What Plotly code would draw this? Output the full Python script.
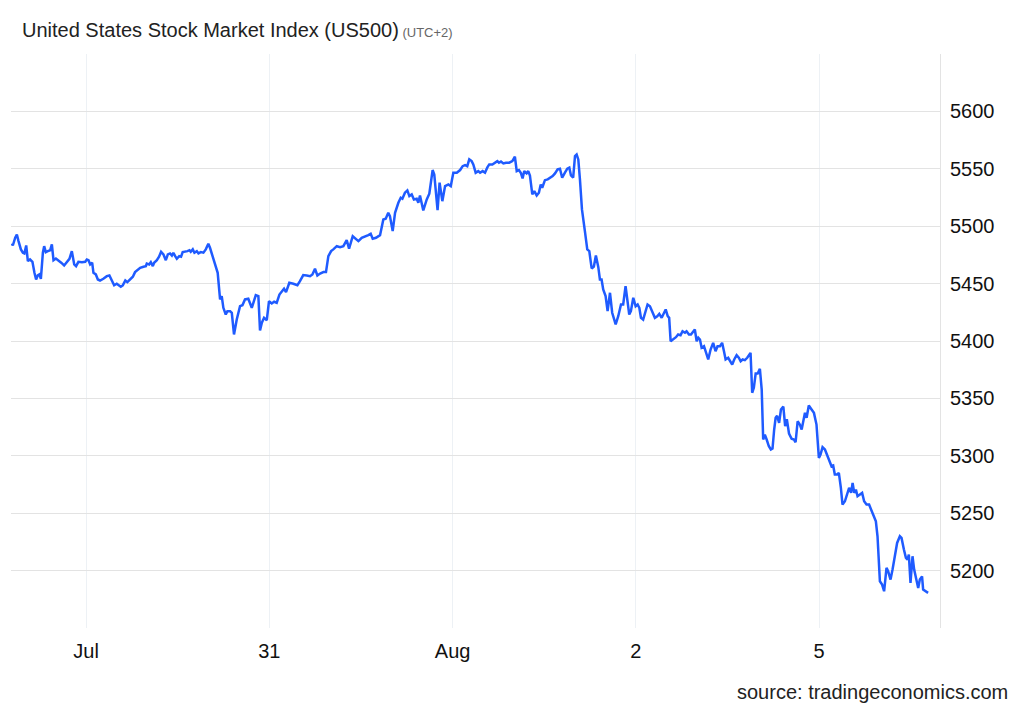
import plotly.graph_objects as go

# session position (0 = Jul 30 tick, 1 = Jul 31, ... 4 = Aug 5) and index level
t_days = [
    -0.405, -0.400, -0.387, -0.378, -0.369, -0.356, -0.345, -0.337, -0.327, -0.318,
    -0.306, -0.293, -0.282, -0.273, -0.264, -0.255, -0.247, -0.236, -0.229, -0.220,
    -0.209, -0.196, -0.187, -0.178, -0.165, -0.151, -0.136, -0.120, -0.105, -0.091,
    -0.078, -0.065, -0.055, -0.042, -0.023, -0.005, 0.004, 0.013, 0.022, 0.033,
    0.040, 0.053, 0.064, 0.076, 0.094, 0.113, 0.127, 0.140, 0.153, 0.167,
    0.176, 0.189, 0.200, 0.214, 0.225, 0.240, 0.255, 0.267, 0.280, 0.295,
    0.313, 0.326, 0.331, 0.344, 0.353, 0.364, 0.371, 0.386, 0.398, 0.409,
    0.422, 0.435, 0.446, 0.458, 0.468, 0.476, 0.486, 0.495, 0.508, 0.518,
    0.527, 0.540, 0.553, 0.564, 0.571, 0.582, 0.591, 0.604, 0.613, 0.626,
    0.640, 0.653, 0.667, 0.676, 0.689, 0.704, 0.718, 0.731, 0.740, 0.749,
    0.762, 0.771, 0.786, 0.795, 0.807, 0.822, 0.840, 0.853, 0.867, 0.885,
    0.904, 0.926, 0.940, 0.949, 0.959, 0.971, 0.986, 0.998, 1.013, 1.026,
    1.040, 1.055, 1.068, 1.080, 1.091, 1.109, 1.131, 1.153, 1.167, 1.185,
    1.204, 1.222, 1.235, 1.249, 1.262, 1.277, 1.295, 1.309, 1.322, 1.337,
    1.349, 1.368, 1.386, 1.404, 1.422, 1.435, 1.455, 1.468, 1.486, 1.504,
    1.522, 1.540, 1.553, 1.564, 1.582, 1.604, 1.622, 1.635, 1.649, 1.658,
    1.673, 1.686, 1.704, 1.717, 1.726, 1.740, 1.753, 1.764, 1.777, 1.789,
    1.804, 1.813, 1.822, 1.840, 1.859, 1.873, 1.891, 1.900, 1.918, 1.929,
    1.944, 1.959, 1.977, 1.990, 2.004, 2.023, 2.041, 2.055, 2.068, 2.080,
    2.091, 2.104, 2.113, 2.126, 2.140, 2.150, 2.164, 2.177, 2.189, 2.200,
    2.217, 2.231, 2.244, 2.253, 2.264, 2.277, 2.291, 2.309, 2.326, 2.340,
    2.350, 2.362, 2.372, 2.382, 2.391, 2.404, 2.413, 2.422, 2.435, 2.446,
    2.459, 2.471, 2.481, 2.489, 2.504, 2.519, 2.531, 2.546, 2.559, 2.573,
    2.586, 2.598, 2.613, 2.626, 2.637, 2.646, 2.658, 2.668, 2.677, 2.686,
    2.695, 2.706, 2.722, 2.735, 2.746, 2.759, 2.771, 2.782, 2.795, 2.804,
    2.813, 2.822, 2.835, 2.846, 2.859, 2.871, 2.890, 2.904, 2.919, 2.931,
    2.944, 2.953, 2.964, 2.973, 2.986, 2.999, 3.010, 3.019, 3.028, 3.040,
    3.054, 3.064, 3.077, 3.092, 3.104, 3.117, 3.128, 3.141, 3.154, 3.163,
    3.174, 3.182, 3.190, 3.204, 3.219, 3.231, 3.244, 3.255, 3.268, 3.277,
    3.290, 3.301, 3.313, 3.322, 3.332, 3.341, 3.350, 3.359, 3.372, 3.383,
    3.395, 3.408, 3.422, 3.435, 3.446, 3.459, 3.471, 3.481, 3.490, 3.504,
    3.513, 3.526, 3.537, 3.550, 3.562, 3.572, 3.583, 3.595, 3.608, 3.617,
    3.626, 3.635, 3.644, 3.654, 3.665, 3.677, 3.687, 3.695, 3.704, 3.714,
    3.726, 3.737, 3.746, 3.755, 3.763, 3.771, 3.782, 3.792, 3.805, 3.815,
    3.824, 3.836, 3.850, 3.863, 3.872, 3.883, 3.895, 3.905, 3.913, 3.923,
    3.932, 3.944, 3.959, 3.972, 3.986, 3.999, 4.008, 4.019, 4.032, 4.046,
    4.059, 4.068, 4.077, 4.086, 4.099, 4.108, 4.119, 4.128, 4.141, 4.153,
    4.164, 4.175, 4.183, 4.192, 4.201, 4.210, 4.223, 4.235, 4.246, 4.259,
    4.273, 4.286, 4.295, 4.310, 4.319, 4.332, 4.344, 4.355, 4.368, 4.377,
    4.390, 4.401, 4.413, 4.426, 4.441, 4.450, 4.463, 4.474, 4.483, 4.490,
    4.499, 4.510, 4.519, 4.528, 4.541, 4.550, 4.562, 4.568, 4.581, 4.595,
]

price = [
    5485.0, 5483.2, 5490.0, 5492.8, 5487.0, 5479.8, 5476.9, 5476.3, 5483.2, 5469.6,
    5471.0, 5469.0, 5459.4, 5453.6, 5457.1, 5458.0, 5454.2, 5476.9, 5482.6, 5477.4,
    5478.3, 5479.1, 5484.1, 5470.4, 5471.9, 5470.4, 5468.2, 5465.8, 5468.7, 5471.6,
    5478.3, 5466.7, 5465.2, 5469.0, 5468.7, 5469.0, 5471.0, 5470.4, 5466.7, 5468.2,
    5459.4, 5458.0, 5453.6, 5452.7, 5454.2, 5456.5, 5457.1, 5452.1, 5448.6, 5449.9,
    5448.6, 5447.2, 5448.4, 5452.7, 5451.3, 5453.6, 5456.0, 5460.0, 5461.7, 5463.8,
    5464.7, 5465.2, 5467.5, 5466.7, 5468.7, 5465.2, 5468.2, 5470.4, 5473.4, 5477.7,
    5475.4, 5470.4, 5475.4, 5476.3, 5474.5, 5476.9, 5473.9, 5471.6, 5473.9, 5473.4,
    5477.4, 5477.7, 5478.3, 5479.1, 5477.7, 5479.8, 5476.9, 5478.3, 5476.3, 5477.4,
    5476.9, 5479.8, 5484.7, 5481.2, 5473.9, 5466.7, 5459.4, 5436.2, 5439.1, 5428.9,
    5423.1, 5426.0, 5426.0, 5424.6, 5405.7, 5418.7, 5430.3, 5431.2, 5436.2, 5436.8,
    5428.9, 5439.9, 5439.1, 5409.2, 5415.9, 5420.2, 5418.1, 5434.7, 5432.7, 5434.2,
    5433.3, 5440.5, 5443.4, 5445.5, 5442.5, 5450.7, 5449.9, 5448.6, 5452.1, 5457.4,
    5457.1, 5456.5, 5458.0, 5462.9, 5457.1, 5458.8, 5460.0, 5460.0, 5473.9, 5478.3,
    5479.8, 5482.6, 5481.8, 5482.6, 5487.9, 5480.4, 5491.3, 5489.1, 5487.0, 5489.9,
    5490.8, 5492.2, 5493.4, 5489.1, 5489.9, 5492.2, 5505.9, 5506.5, 5511.7, 5508.8,
    5495.7, 5511.7, 5520.4, 5524.8, 5523.9, 5529.2, 5531.2, 5526.2, 5527.7, 5523.3,
    5523.9, 5520.4, 5526.8, 5513.7, 5523.3, 5528.3, 5548.9, 5545.1, 5514.0, 5537.9,
    5521.8, 5534.9, 5536.4, 5534.9, 5546.6, 5546.6, 5548.9, 5552.3, 5553.2, 5552.3,
    5558.2, 5556.7, 5553.8, 5546.6, 5548.0, 5546.6, 5548.0, 5546.6, 5551.0, 5553.8,
    5553.8, 5555.3, 5556.7, 5555.3, 5556.4, 5554.7, 5555.3, 5555.3, 5556.7, 5560.5,
    5548.0, 5548.9, 5546.6, 5541.6, 5548.0, 5546.0, 5548.0, 5544.2, 5527.7, 5530.6,
    5526.8, 5529.2, 5536.4, 5533.5, 5540.1, 5540.8, 5542.2, 5543.6, 5546.0, 5549.5,
    5550.1, 5542.2, 5546.6, 5550.1, 5551.0, 5544.2, 5542.2, 5561.1, 5562.5, 5558.2,
    5540.8, 5514.6, 5495.7, 5479.8, 5478.3, 5463.2, 5464.9, 5474.5, 5464.5, 5453.6,
    5453.6, 5444.9, 5439.1, 5426.0, 5442.0, 5424.6, 5414.4, 5421.6, 5431.8, 5431.8,
    5447.8, 5436.2, 5423.1, 5426.0, 5437.7, 5430.3, 5431.8, 5428.9, 5420.2, 5418.7,
    5427.5, 5431.8, 5430.3, 5424.6, 5420.2, 5421.6, 5423.7, 5420.2, 5424.0, 5427.5,
    5421.6, 5420.2, 5399.8, 5401.3, 5403.3, 5405.7, 5405.1, 5408.5, 5407.2, 5408.5,
    5405.7, 5405.7, 5408.5, 5410.0, 5399.8, 5402.8, 5401.3, 5394.1, 5395.5, 5389.7,
    5383.9, 5392.6, 5398.4, 5391.1, 5395.5, 5395.5, 5398.4, 5391.1, 5383.9, 5385.4,
    5383.0, 5379.5, 5383.9, 5387.6, 5385.4, 5382.4, 5383.9, 5383.3, 5385.4, 5387.4,
    5389.7, 5354.9, 5359.2, 5371.7, 5371.7, 5375.8, 5357.7, 5314.2, 5318.5, 5314.2,
    5308.3, 5305.5, 5306.3, 5322.9, 5333.1, 5334.8, 5328.7, 5340.3, 5342.9, 5325.8,
    5331.9, 5319.4, 5314.8, 5314.2, 5311.8, 5330.1, 5327.2, 5322.9, 5329.6, 5337.4,
    5333.1, 5343.8, 5340.3, 5337.4, 5327.2, 5298.2, 5301.1, 5307.5, 5305.5, 5300.2,
    5295.3, 5290.9, 5291.5, 5283.7, 5283.7, 5285.1, 5272.1, 5257.5, 5260.4, 5267.7,
    5272.1, 5267.7, 5276.4, 5267.7, 5270.6, 5264.8, 5266.2, 5267.7, 5260.4, 5257.5,
    5257.5, 5253.2, 5248.8, 5243.0, 5229.9, 5190.7, 5187.8, 5182.0, 5202.4, 5199.4,
    5192.2, 5200.9, 5211.1, 5224.1, 5229.9, 5228.5, 5218.3, 5211.1, 5209.6, 5213.9,
    5189.3, 5212.5, 5200.9, 5193.6, 5184.9, 5192.2, 5195.0, 5183.4, 5182.0, 5180.6,
]

x_tick_pos = [0, 1, 2, 3, 4]
x_tick_text = ["Jul", "31", "Aug", "2", "5"]
y_tick_vals = [5150, 5200, 5250, 5300, 5350, 5400, 5450, 5500, 5550, 5600, 5650]
y_tick_text = ["", "5200", "5250", "5300", "5350", "5400", "5450", "5500", "5550", "5600", ""]

fig = go.Figure()
fig.add_trace(
    go.Scatter(
        x=t_days,
        y=price,
        mode="lines",
        line=dict(color="#1f5bff", width=2.5),
        showlegend=False,
        hoverinfo="y",
    )
)

# the page body adds an 8px margin, so the figure is sized to fit inside the window
fig.update_layout(
    width=1016,
    height=702,
    margin=dict(l=3, r=84, t=46, b=82),
    paper_bgcolor="white",
    plot_bgcolor="white",
    font=dict(family="Liberation Sans, Arial, sans-serif", color="#222222"),
    xaxis=dict(
        range=[-0.41, 4.66],
        tickvals=x_tick_pos,
        ticktext=x_tick_text,
        showgrid=True,
        gridcolor="#edf1f5",
        gridwidth=1,
        zeroline=False,
        showline=False,
        ticks="",
        ticklabelstandoff=9,
        tickfont=dict(size=20, color="#111111"),
    ),
    yaxis=dict(
        side="right",
        range=[5150, 5650],
        tickvals=y_tick_vals,
        ticktext=y_tick_text,
        showgrid=True,
        gridcolor="#e3e3e3",
        gridwidth=1,
        zeroline=False,
        showline=True,
        linecolor="#e3e3e3",
        ticks="",
        ticklabelstandoff=5,
        tickfont=dict(size=20, color="#111111"),
    ),
    annotations=[
        dict(
            text="United States Stock Market Index (US500)"
            "<span style='font-size:13px;color:#666666'> (UTC+2)</span>",
            xref="paper",
            yref="paper",
            x=(20 - 11) / 929,
            y=1.042,
            xanchor="left",
            yanchor="middle",
            showarrow=False,
            font=dict(size=20, color="#222222"),
        ),
        dict(
            text="source: tradingeconomics.com",
            xref="paper",
            yref="paper",
            x=1.0753,
            y=-0.1115,
            xanchor="right",
            yanchor="middle",
            showarrow=False,
            font=dict(size=20, color="#222222"),
        ),
    ],
)

fig.write_html("out.html", config={"displayModeBar": False})
